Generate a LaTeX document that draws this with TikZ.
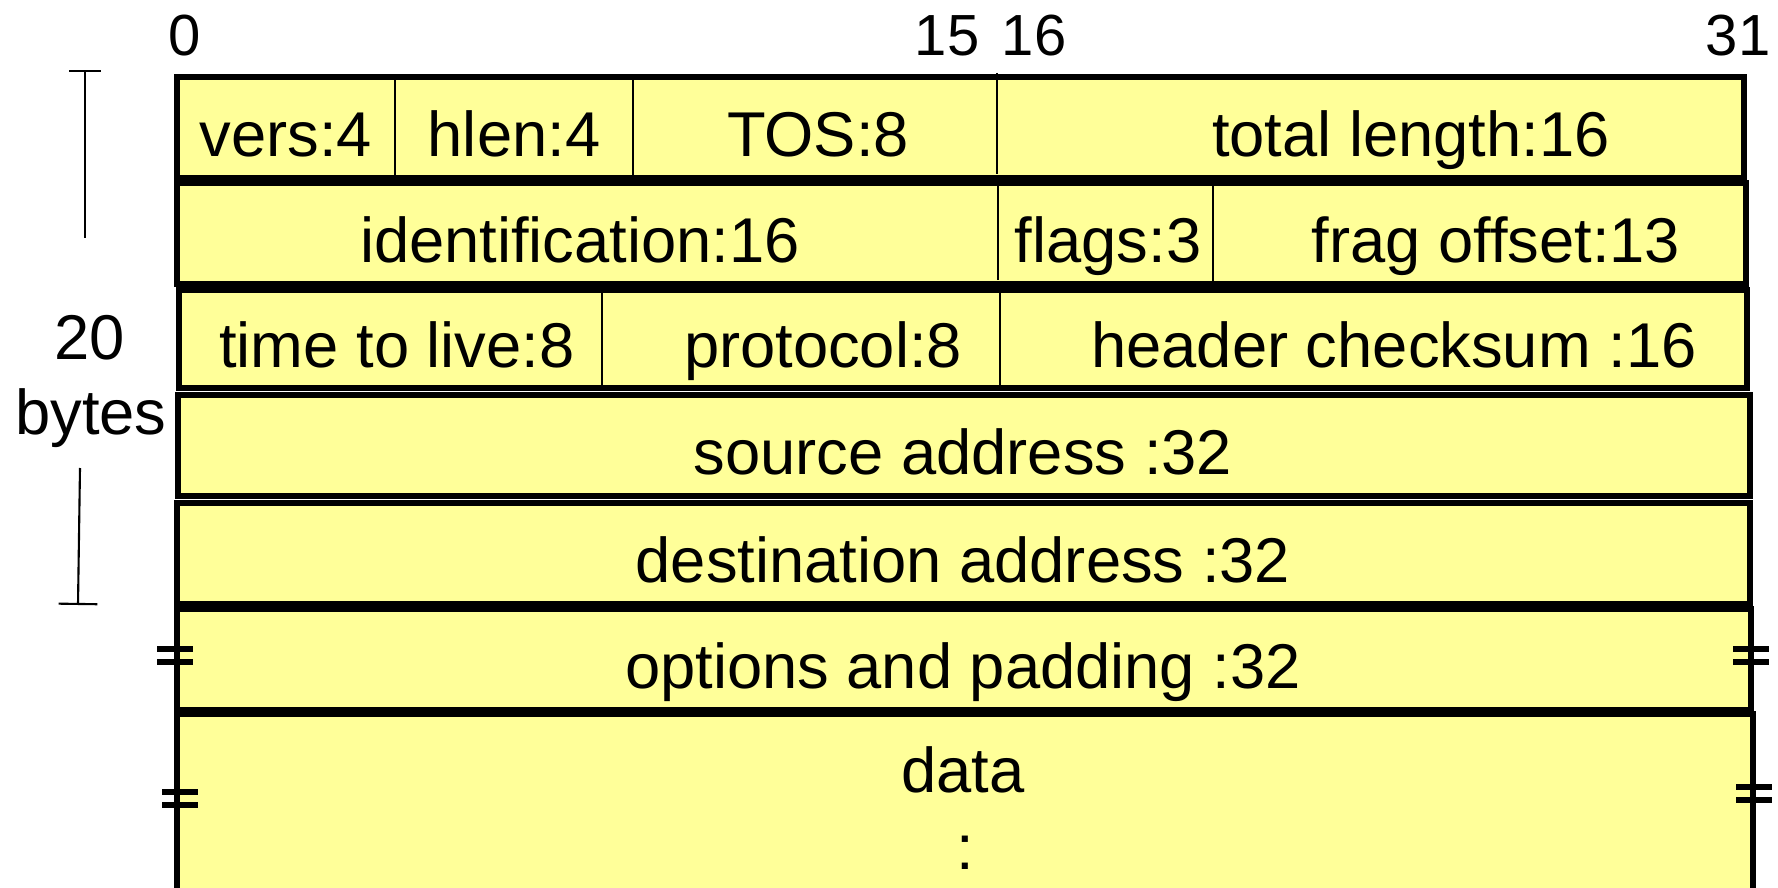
\documentclass[tikz,border=0pt]{standalone}
\usepackage{fontspec}
\setmainfont{Liberation Sans}
\usetikzlibrary{arrows.meta}
\definecolor{hdrfill}{HTML}{FFFF99}
\tikzset{hdrrow/.style={draw,fill=hdrfill,line width=1.45pt},divider/.style={line width=0.5pt},brk/.style={line width=1.6pt}}

\begin{document}
\begin{tikzpicture}[x=0.01cm,y=-0.01cm,fld/.style={anchor=base,inner sep=0pt,font=\fontsize{18}{20}\selectfont},bitno/.style={anchor=base,inner sep=0pt,font=\fontsize{16.5}{18}\selectfont}]
			\useasboundingbox (0,0) rectangle (1778,888);
			\clip (0,0) rectangle (1778,888);

			\draw[hdrrow] (177,77) rectangle (1744,178);
			\draw[hdrrow] (177,183) rectangle (1746,284);
			\draw[hdrrow] (179,290) rectangle (1747,388);
			\draw[hdrrow] (178,395) rectangle (1750,496);
			\draw[hdrrow] (177,503) rectangle (1750,604);
			\draw[hdrrow] (177,609) rectangle (1751,710);
			\draw[hdrrow] (177,714) rectangle (1753,905);

			\foreach \x/\ya/\yb in {395/77/178,633/77/178,997/73/174,998/183/280,1213/183/284,602/290/388,1000/290/388}
				\draw[divider] (\x,\ya) -- (\x,\yb);

			\node[bitno] (b0) at (185,56) {0};
			\node[bitno] (b15) at (947,56) {15};
			\node[bitno] (b16) at (1034,56) {16};
			\node[bitno] (b31) at (1738,56) {31};

			\node[fld] (vers) at (286,157) {vers:4};
			\node[fld] (hlen) at (514,157) {hlen:4};
			\node[fld] (tos) at (818,157) {TOS:8};
			\node[fld] (totlen) at (1411,157) {total length:16};
			\node[fld] (ident) at (580,262) {identification:16};
			\node[fld] (flags) at (1108,262) {flags:3};
			\node[fld] (fragoff) at (1496,262) {frag offset:13};
			\node[fld] (ttl) at (397,367) {time to live:8};
			\node[fld] (proto) at (823,367) {protocol:8};
			\node[fld] (chksum) at (1394,367) {header checksum :16};
			\node[fld] (srcaddr) at (963,474) {source address :32};
			\node[fld] (dstaddr) at (963,582) {destination address :32};
			\node[fld] (opts) at (963,688) {options and padding :32};
			\node[fld] (data) at (963,792) {data};
			\node[fld] (dots) at (965,869) {:};

			\node[fld] (twenty) at (90,360) {20};
			\node[fld] (bytes) at (91,435) {bytes};
			\coordinate (brtop) at (85,70);
			\coordinate (brtopend) at (85,238);
			\coordinate (brbot) at (80,468);
			\coordinate (brbotend) at (78,605);
			\draw[{Bar[width=9pt]}-,line width=0.6pt] (brtop) -- (brtopend);
			\draw[-{Bar[width=11pt]},line width=0.6pt] (brbot) -- (brbotend);

			\foreach \x/\y in {175/649,180/792,1751/649,1754/787} {
				\draw[brk] (\x-18,\y) -- (\x+18,\y);
				\draw[brk] (\x-18,\y+13) -- (\x+18,\y+13);
			}
		\end{tikzpicture}
\end{document}
